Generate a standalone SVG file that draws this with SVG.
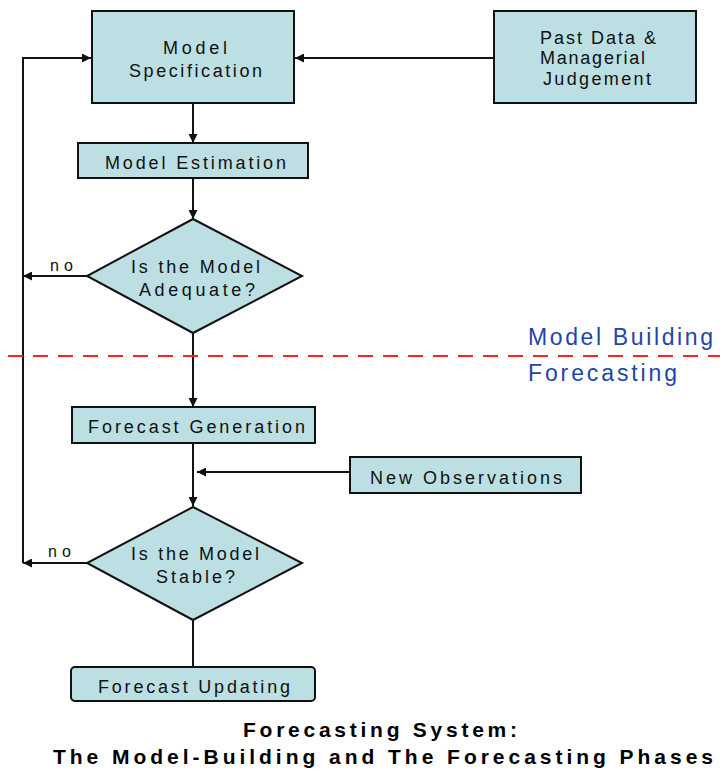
<svg xmlns="http://www.w3.org/2000/svg" width="720" height="771" viewBox="0 0 720 771">
<style>
.box{fill:#bbdfe3;stroke:#111;stroke-width:2}
.t{font-family:"Liberation Sans",Arial,sans-serif;font-size:18px;fill:#111}
.lbl{font-family:"Liberation Sans",Arial,sans-serif;font-size:16px;fill:#111}
.phase{font-family:"Liberation Sans",Arial,sans-serif;font-size:23px;fill:#1f45a8}
.title{font-family:"Liberation Sans",Arial,sans-serif;font-size:21px;font-weight:bold;fill:#000}
.c{fill:none;stroke:#111;stroke-width:2}
</style>
<defs>
<marker id="ah" viewBox="0 0 10 10" refX="10" refY="5" markerWidth="9" markerHeight="9" markerUnits="userSpaceOnUse" orient="auto">
<path d="M0,0 L10,5 L0,10 z" fill="#111"/>
</marker>
</defs>
<rect width="720" height="771" fill="#fff"/>
<g id="connectors">
<line class="c" x1="193" y1="103" x2="193" y2="143" marker-end="url(#ah)"/>
<line class="c" x1="193" y1="178" x2="193" y2="219" marker-end="url(#ah)"/>
<line class="c" x1="193" y1="333" x2="193" y2="407" marker-end="url(#ah)"/>
<line class="c" x1="193" y1="443" x2="193" y2="506" marker-end="url(#ah)"/>
<line class="c" x1="193" y1="620" x2="193" y2="667"/>
<line class="c" x1="494" y1="58" x2="295" y2="58" marker-end="url(#ah)"/>
<line class="c" x1="350" y1="472" x2="197" y2="472" marker-end="url(#ah)"/>
<line class="c" x1="87" y1="276" x2="23" y2="276" marker-end="url(#ah)"/>
<line class="c" x1="87" y1="563" x2="23" y2="563" marker-end="url(#ah)"/>
<polyline class="c" points="23,563 23,58 91,58" marker-end="url(#ah)"/>
<text class="lbl" x="50" y="271" textLength="23">no</text>
<text class="lbl" x="48" y="557" textLength="23">no</text>
</g>
<g id="phase-divider">
<line x1="8" y1="356" x2="720" y2="356" stroke="#ff2020" stroke-width="2" stroke-dasharray="15,10"/>
<text class="phase" x="528" y="345" textLength="185">Model Building</text>
<text class="phase" x="528" y="381" textLength="149">Forecasting</text>
</g>
<g id="model-specification">
<rect class="box" x="92" y="11" width="202" height="92"/>
<text class="t" x="163" y="54" textLength="64">Model</text>
<text class="t" x="129" y="77" textLength="133">Specification</text>
</g>
<g id="past-data">
<rect class="box" x="494" y="11" width="202" height="92"/>
<text class="t" x="540" y="44" textLength="116">Past Data &amp;</text>
<text class="t" x="540" y="64" textLength="105">Managerial</text>
<text class="t" x="543" y="85" textLength="108">Judgement</text>
</g>
<g id="model-estimation">
<rect class="box" x="78" y="143" width="230" height="35"/>
<text class="t" x="105" y="169" textLength="181">Model Estimation</text>
</g>
<g id="model-adequate">
<polygon class="box" points="193,219 302,276 193,333 87,276"/>
<text class="t" x="131" y="273" textLength="129">Is the Model</text>
<text class="t" x="139" y="296" textLength="116">Adequate?</text>
</g>
<g id="forecast-generation">
<rect class="box" x="72" y="407" width="243" height="36"/>
<text class="t" x="88" y="433" textLength="217">Forecast Generation</text>
</g>
<g id="new-observations">
<rect class="box" x="350" y="457" width="231" height="36"/>
<text class="t" x="370" y="484" textLength="192">New Observations</text>
</g>
<g id="model-stable">
<polygon class="box" points="193,507 302,563 193,620 87,563"/>
<text class="t" x="131" y="560" textLength="128">Is the Model</text>
<text class="t" x="156" y="583" textLength="79">Stable?</text>
</g>
<g id="forecast-updating">
<rect class="box" x="71" y="667" width="244" height="34" rx="4"/>
<text class="t" x="98" y="693" textLength="192">Forecast Updating</text>
</g>
<g id="title">
<text class="title" x="243" y="737" textLength="274">Forecasting System:</text>
<text class="title" x="53" y="764" textLength="660">The Model-Building and The Forecasting Phases</text>
</g>
</svg>
